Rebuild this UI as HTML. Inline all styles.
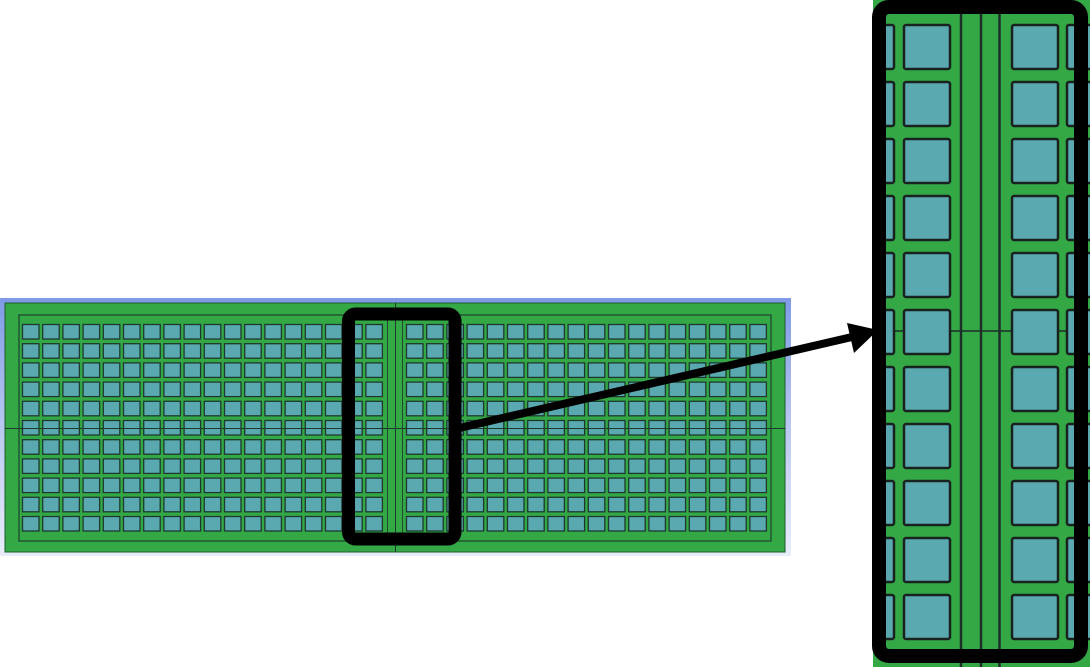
<!DOCTYPE html>
<html><head><style>html,body{margin:0;padding:0;background:#fff;}svg{display:block}</style></head>
<body>
<svg width="1090" height="667" viewBox="0 0 1090 667" xmlns="http://www.w3.org/2000/svg">
<defs>
<linearGradient id="bg" x1="0" y1="0" x2="0" y2="1">
<stop offset="0" stop-color="#7f9ae6"/><stop offset="0.5" stop-color="#b9c8f0"/><stop offset="1" stop-color="#e8edf9"/>
</linearGradient>
<clipPath id="zc"><rect x="873" y="0" width="217" height="667"/></clipPath>
</defs>
<rect x="0" y="298" width="791" height="258" fill="url(#bg)"/>
<rect x="5" y="303" width="780" height="249" fill="#33a845" stroke="#1f5a30" stroke-width="1"/>
<rect x="19" y="315" width="752" height="226" fill="none" stroke="#1f4a30" stroke-width="1.3"/>
<g id="sq" fill="#5aa8b0" stroke="#1c3a30" stroke-width="1.3"></g>
<g stroke="#1f4a30" stroke-width="1">
<line x1="387.5" y1="315" x2="387.5" y2="541"/>
<line x1="402.5" y1="315" x2="402.5" y2="541"/>
</g>
<line x1="395.5" y1="303" x2="395.5" y2="552" stroke="#1a3a2a" stroke-width="1"/>
<line x1="5" y1="428.5" x2="785" y2="428.5" stroke="#1a3a2a" stroke-width="1"/>

<g clip-path="url(#zc)">
<rect x="873" y="0" width="217" height="667" fill="#33a845"/>
<g stroke="#1c2e28" stroke-width="2.5">
<line x1="961" y1="0" x2="961" y2="667"/>
<line x1="981" y1="0" x2="981" y2="667"/>
<line x1="999.5" y1="0" x2="999.5" y2="667"/>
</g>
<line x1="873" y1="331" x2="1090" y2="331" stroke="#1c2e28" stroke-width="1.5"/>
<g id="zq" fill="#5aa8b0" stroke="#18231f" stroke-width="2.5"></g>
</g>
<rect x="879" y="7" width="202" height="649" rx="10" fill="none" stroke="#000" stroke-width="14"/>

<rect x="348.5" y="314" width="106.5" height="225" rx="7" fill="none" stroke="#000" stroke-width="13"/>
<line x1="455" y1="429" x2="852" y2="337" stroke="#000" stroke-width="8"/>
<polygon points="878,330 847,323 854,353" fill="#000"/>
</svg>
<script>
var ns="http://www.w3.org/2000/svg";
var g=document.getElementById("sq");
function r(p,x,y,w,h,rx){var e=document.createElementNS(ns,"rect");e.setAttribute("x",x);e.setAttribute("y",y);e.setAttribute("width",w);e.setAttribute("height",h);if(rx)e.setAttribute("rx",rx);p.appendChild(e);}
for(var i=0;i<11;i++){var y=324.5+i*19.2;
for(var c=0;c<18;c++){r(g,22.5+c*20.2,y,16.5,14.5);r(g,406.5+c*20.2,y,16.5,14.5);}}
var z=document.getElementById("zq");
for(var k=0;k<11;k++){var y=25+k*57;
r(z,904,y,46,44,2);r(z,1012,y,46,44,2);r(z,850,y,44,44,2);r(z,1067,y,46,44,2);}
</script>
</body></html>
